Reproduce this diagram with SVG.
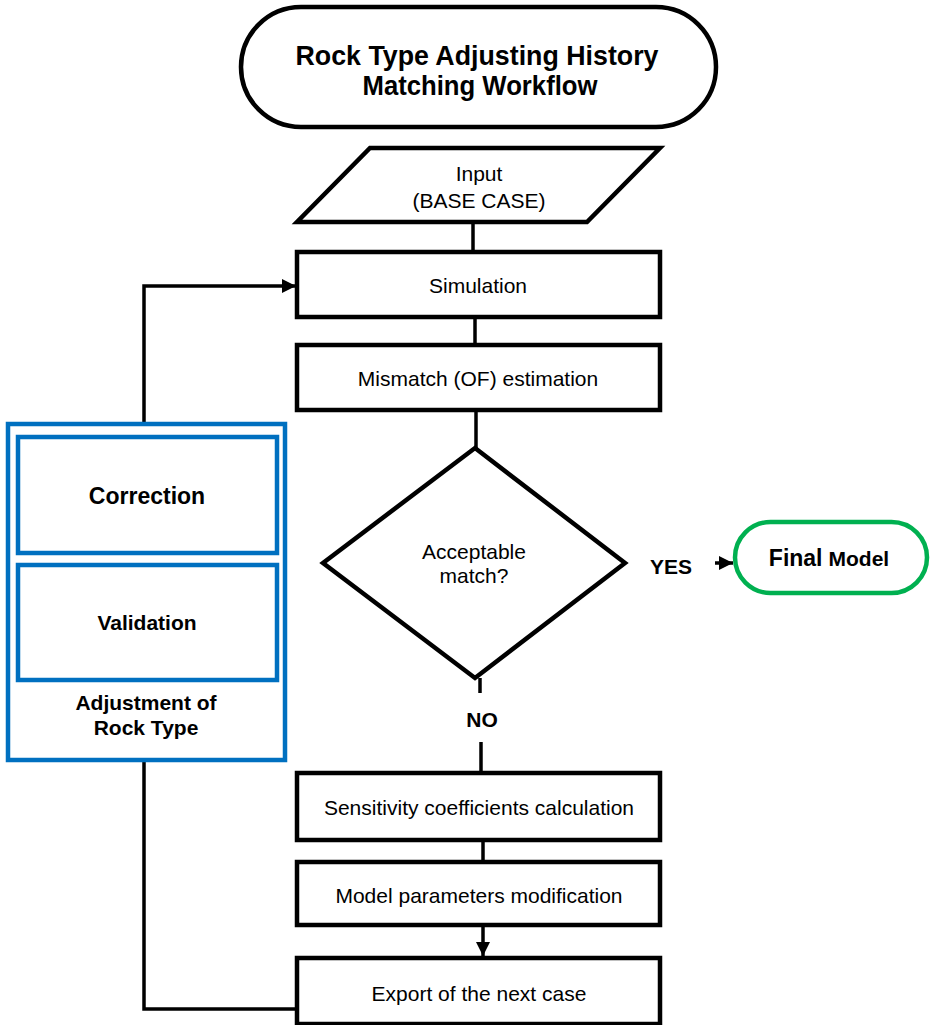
<svg xmlns="http://www.w3.org/2000/svg" width="933" height="1025" viewBox="0 0 933 1025">
  <style>
    .box { fill: #ffffff; stroke: #000000; stroke-width: 4.5; stroke-linejoin: miter; }
    .blue { fill: #ffffff; stroke: #0070C0; stroke-width: 4.5; }
    .green { fill: #ffffff; stroke: #00B050; stroke-width: 4.5; }
    .wire { fill: none; stroke: #000000; stroke-width: 3.5; stroke-linejoin: miter; }
    text { font-family: "Liberation Sans", Arial, sans-serif; fill: #000000; text-anchor: middle; dominant-baseline: central; }
    .t21 { font-size: 21px; }
    .b21 { font-size: 21px; font-weight: bold; }
    .b23 { font-size: 23px; font-weight: bold; }
    .title { font-size: 28px; font-weight: bold; dominant-baseline: auto; }
  </style>
  <defs>
    <marker id="arrow" viewBox="0 0 10 10" refX="10" refY="5" markerWidth="4" markerHeight="4" markerUnits="strokeWidth" orient="auto">
      <path d="M0,0 L10,5 L0,10 Z" fill="#000000"/>
    </marker>
  </defs>

  <!-- connectors -->
  <g id="connectors">
    <line class="wire" x1="473" y1="222" x2="473" y2="252"/>
    <line class="wire" x1="475" y1="317" x2="475" y2="345"/>
    <line class="wire" x1="476" y1="410" x2="476" y2="448"/>
    <line class="wire" x1="480" y1="678" x2="480" y2="693"/>
    <line class="wire" x1="481" y1="742" x2="481" y2="773"/>
    <line class="wire" x1="483" y1="840" x2="483" y2="862"/>
    <line class="wire" x1="483" y1="925" x2="483" y2="956" marker-end="url(#arrow)"/>
    <polyline class="wire" points="297,1009 144,1009 144,760"/>
    <polyline class="wire" points="144,423 144,286 296,286" marker-end="url(#arrow)"/>
    <line class="wire" x1="715" y1="563" x2="733" y2="563" marker-end="url(#arrow)"/>
  </g>

  <!-- title terminator -->
  <g id="title">
    <rect class="box" x="241" y="7" width="475" height="120" rx="60" ry="60"/>
    <text class="title" x="477" y="65" textLength="363" lengthAdjust="spacingAndGlyphs">Rock Type Adjusting History</text>
    <text class="title" x="480" y="94.5" textLength="235" lengthAdjust="spacingAndGlyphs">Matching Workflow</text>
  </g>

  <!-- input data -->
  <g id="input">
    <polygon class="box" points="370,148 660,148 587,222 297,222"/>
    <text class="t21" x="479" y="173">Input</text>
    <text class="t21" x="479" y="200">(BASE CASE)</text>
  </g>

  <g id="simulation">
    <rect class="box" x="297" y="252" width="363" height="65"/>
    <text class="t21" x="478" y="285">Simulation</text>
  </g>

  <g id="mismatch">
    <rect class="box" x="297" y="345" width="363" height="65"/>
    <text class="t21" x="478" y="378">Mismatch (OF) estimation</text>
  </g>

  <!-- decision -->
  <g id="decision">
    <polygon class="box" points="475,448 625,563 475,678 323,563"/>
    <text class="t21" x="474" y="551">Acceptable</text>
    <text class="t21" x="474" y="575">match?</text>
  </g>

  <g id="label-yes">
    <text class="b21" x="671" y="566">YES</text>
  </g>
  <g id="label-no">
    <text class="b21" x="482" y="719">NO</text>
  </g>

  <g id="final-model">
    <rect class="green" x="735" y="522" width="192" height="71" rx="35.5" ry="35.5"/>
    <text x="829" y="558"><tspan class="b23">Final</tspan><tspan class="b21" dx="6">Model</tspan></text>
  </g>

  <g id="sensitivity">
    <rect class="box" x="297" y="773" width="363" height="67"/>
    <text class="t21" x="479" y="807">Sensitivity coefficients calculation</text>
  </g>

  <g id="modification">
    <rect class="box" x="297" y="862" width="363" height="63"/>
    <text class="t21" x="479" y="895">Model parameters modification</text>
  </g>

  <g id="export">
    <rect class="box" x="297" y="958" width="363" height="66"/>
    <text class="t21" x="479" y="993">Export of the next case</text>
  </g>

  <!-- rock type adjustment group -->
  <g id="adjustment">
    <rect class="blue" x="8" y="424" width="277" height="336"/>
    <text class="b21" x="146" y="702">Adjustment of</text>
    <text class="b21" x="146" y="727">Rock Type</text>
  </g>
  <g id="correction">
    <rect class="blue" x="18" y="437" width="259" height="116"/>
    <text class="b23" x="147" y="496">Correction</text>
  </g>
  <g id="validation">
    <rect class="blue" x="18" y="565" width="259" height="115"/>
    <text class="b21" x="147" y="622">Validation</text>
  </g>
</svg>
